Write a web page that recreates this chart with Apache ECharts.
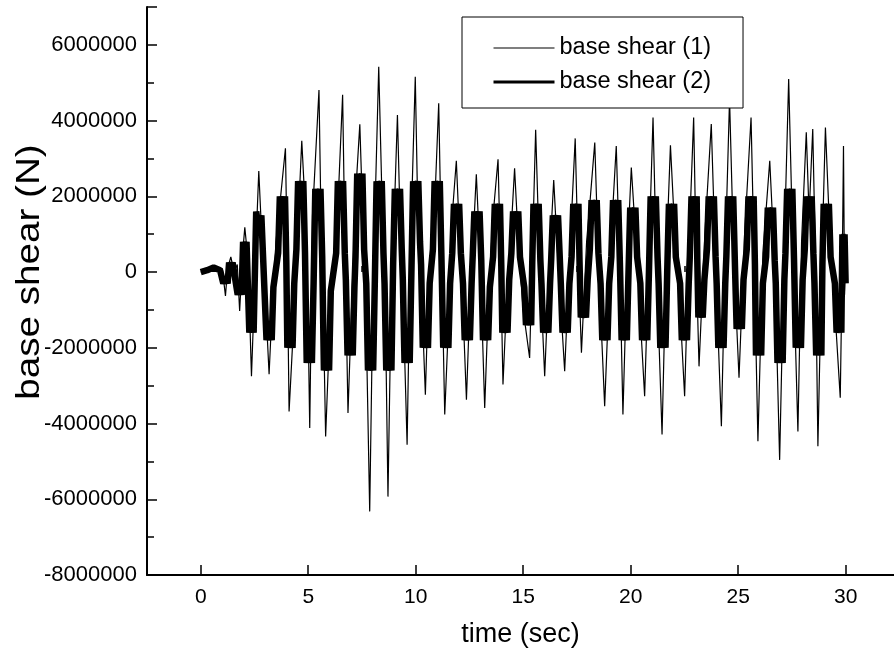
<!DOCTYPE html>
<html>
<head>
<meta charset="utf-8">
<script src="https://cdn.jsdelivr.net/npm/echarts@6/dist/echarts.min.js"></script>
<style>
html,body{margin:0;padding:0;background:#fff;}
#chart{width:894px;height:659px;}
</style>
</head>
<body>
<div id="chart"></div>
<script>
// base shear (1): time (sec) and base shear (MN)
const time1 = [0,0.2,0.4,0.55,0.7,0.85,1.0,1.15,1.25,1.4,1.55,1.7,1.81,1.95,2.05,2.2,2.36,2.5,2.6,2.7,2.85,3.0,3.18,3.3,3.5,3.7,3.94,4.02,4.11,4.3,4.45,4.6,4.7,4.85,5.0,5.07,5.2,5.5,5.6,5.7,5.81,6.0,6.2,6.4,6.6,6.7,6.85,7.0,7.2,7.4,7.55,7.7,7.86,8.0,8.1,8.28,8.45,8.6,8.71,8.85,9.0,9.15,9.3,9.45,9.6,9.75,9.98,10.1,10.3,10.45,10.6,10.9,11.07,11.2,11.35,11.55,11.7,11.89,12.05,12.2,12.36,12.55,12.7,12.82,13.0,13.21,13.4,13.6,13.83,13.95,14.06,14.25,14.45,14.6,14.8,15.0,15.3,15.45,15.58,15.75,16.0,16.2,16.42,16.6,16.93,17.15,17.42,17.55,17.71,17.95,18.1,18.33,18.5,18.79,19.0,19.15,19.33,19.5,19.64,19.85,20.03,20.3,20.65,20.85,21.04,21.2,21.46,21.65,21.85,22.1,22.3,22.51,22.7,22.93,23.05,23.18,23.45,23.75,23.95,24.22,24.4,24.6,24.8,25.04,25.3,25.6,25.75,25.92,26.15,26.47,26.7,26.93,27.15,27.35,27.55,27.78,27.95,28.17,28.3,28.47,28.6,28.71,28.9,29.06,29.3,29.5,29.75,29.85,29.9,29.95,30.0];
const shear1 = [0,0.03,0.08,0.02,0.15,0.05,0.1,-0.63,0.1,0.4,0.0,0.2,-1.03,0.5,1.18,0.3,-2.75,-0.5,1.2,2.67,0.8,-0.6,-2.7,-1.2,0.8,1.9,3.27,0.5,-3.68,-1.6,0.5,2.2,3.47,1.8,-1.5,-4.12,1.5,4.81,1.2,-1.0,-4.34,-1.5,0.5,2.0,4.68,1.0,-3.72,-1.2,2.0,3.9,1.2,-1.5,-6.32,-1.0,1.5,5.42,1.5,-1.5,-5.93,-1.0,1.5,4.15,0.8,-1.5,-4.56,0.5,5.16,1.5,-1.0,-3.24,-0.3,2.0,4.46,0.5,-3.76,-1.0,1.5,2.94,0.8,-1.0,-3.37,-0.3,1.2,2.58,0.3,-3.59,-0.5,1.5,2.98,0.2,-2.97,-0.5,1.2,2.74,0.5,-1.0,-2.27,1.0,3.76,0.5,-2.75,0.0,2.43,0.5,-2.62,0.3,3.53,0.5,-2.13,0.8,1.8,3.42,0.3,-3.54,-0.5,1.5,3.33,0.0,-3.76,0.5,2.76,0.3,-3.28,0.5,4.08,0.2,-4.29,0.3,3.35,0.5,-1.0,-3.28,0.5,4.08,0.3,-2.49,1.0,3.91,0.2,-4.07,0.5,4.57,0.3,-2.79,1.0,4.08,0.2,-4.47,0.5,2.94,0.2,-4.96,0.8,5.1,0.5,-4.21,0.8,3.69,1.5,3.78,0.2,-4.6,0.5,3.82,0.5,-1.0,-3.32,0.5,3.33,-0.6,0.2];

// base shear (2): [time (sec), base shear (MN)]
const trace2 = [
[0,0],[0.3,0.05],[0.6,0.12],[0.9,0.05],[1.05,-0.3],[1.15,-0.15],[1.25,-0.3],[1.32,0.25],[1.4,0.1],[1.48,0.25],
[1.72,-0.6],[1.81,-0.4],[1.9,-0.6],[1.97,0.8],[2.05,0.5],[2.13,0.8],[2.26,-1.6],[2.36,-1.2],[2.46,-1.6],[2.58,1.6],[2.7,1.1],[2.82,1.5],
[3.06,-1.8],[3.18,-1.3],[3.3,-1.8],[3.38,-0.4],[3.6,0.5],[3.68,2.0],[3.8,1.4],[3.92,2.0],[3.98,0.3],
[4.03,-2.0],[4.15,-1.5],[4.27,-2.0],[4.35,-0.3],[4.45,0.6],[4.53,2.4],[4.65,1.8],[4.77,2.4],[4.85,0.5],
[4.93,-2.4],[5.05,-1.8],[5.17,-2.4],[5.25,-0.3],[5.33,2.2],[5.45,1.6],[5.57,2.2],[5.65,0.4],
[5.73,-2.6],[5.85,-2.0],[5.97,-2.6],[6.05,-0.5],[6.3,0.5],[6.38,2.4],[6.5,1.8],[6.62,2.4],[6.7,0.5],[6.75,-0.2],
[6.83,-2.2],[6.95,-1.6],[7.07,-2.2],[7.15,-0.4],[7.2,0.4],[7.28,2.6],[7.4,2.0],[7.52,2.6],[7.6,0.6],[7.7,-0.3],
[7.78,-2.6],[7.9,-2.0],[8.02,-2.6],[8.1,-0.2],[8.18,2.4],[8.3,1.8],[8.42,2.4],[8.5,0.5],[8.55,-0.3],
[8.63,-2.6],[8.75,-2.0],[8.87,-2.6],[8.95,0.2],[9.03,2.2],[9.15,1.6],[9.27,2.2],[9.35,0.6],[9.4,-0.2],
[9.48,-2.4],[9.6,-1.8],[9.72,-2.4],[9.8,0.0],[9.88,2.4],[10.0,1.8],[10.12,2.4],[10.2,0.8],[10.25,0.2],
[10.33,-2.0],[10.45,-1.5],[10.57,-2.0],[10.65,-0.3],[10.8,0.6],[10.88,2.4],[11.0,1.8],[11.12,2.4],[11.2,0.3],
[11.28,-2.0],[11.4,-1.5],[11.52,-2.0],[11.6,-0.3],[11.7,0.5],[11.78,1.8],[11.9,1.3],[12.02,1.8],[12.1,0.5],[12.2,-0.3],
[12.28,-1.8],[12.4,-1.3],[12.52,-1.8],[12.6,-0.3],[12.65,0.4],[12.73,1.6],[12.85,1.2],[12.97,1.6],[13.05,0.3],
[13.13,-1.8],[13.25,-1.3],[13.37,-1.8],[13.45,-0.4],[13.6,0.4],[13.68,1.8],[13.8,1.3],[13.92,1.8],[13.98,0.2],
[14.03,-1.6],[14.15,-1.2],[14.27,-1.6],[14.35,-0.2],[14.45,0.5],[14.53,1.6],[14.65,1.2],[14.77,1.6],[14.85,0.4],[15.05,-0.4],
[15.13,-1.4],[15.25,-1.0],[15.37,-1.4],[15.42,0.2],[15.48,1.8],[15.6,1.3],[15.72,1.8],[15.8,0.3],[15.85,-0.3],
[15.93,-1.6],[16.05,-1.2],[16.17,-1.6],[16.25,-0.3],[16.3,0.3],[16.38,1.5],[16.5,1.1],[16.62,1.5],[16.7,0.4],[16.75,-0.3],
[16.83,-1.6],[16.95,-1.2],[17.07,-1.6],[17.15,-0.3],[17.25,0.4],[17.33,1.8],[17.45,1.3],[17.57,1.8],[17.62,0.3],
[17.68,-1.2],[17.8,-0.9],[17.92,-1.2],[18.0,-0.2],[18.1,0.6],[18.18,1.9],[18.3,1.4],[18.42,1.9],[18.5,0.5],[18.6,-0.3],
[18.68,-1.8],[18.8,-1.3],[18.92,-1.8],[19.0,-0.3],[19.1,0.4],[19.18,1.9],[19.3,1.4],[19.42,1.9],[19.5,0.2],
[19.58,-1.8],[19.7,-1.3],[19.82,-1.8],[19.9,0.0],[19.98,1.7],[20.1,1.2],[20.22,1.7],[20.3,0.4],[20.45,-0.3],
[20.53,-1.8],[20.65,-1.3],[20.77,-1.8],[20.85,0.0],[20.93,2.0],[21.05,1.5],[21.17,2.0],[21.25,0.4],[21.3,-0.3],
[21.38,-2.0],[21.5,-1.5],[21.62,-2.0],[21.7,0.0],[21.78,1.8],[21.9,1.3],[22.02,1.8],[22.1,0.4],[22.3,-0.3],
[22.38,-1.8],[22.5,-1.3],[22.62,-1.8],[22.7,-0.3],[22.75,0.4],[22.83,2.0],[22.95,1.5],[23.07,2.0],[23.1,0.3],
[23.15,-1.2],[23.25,-0.9],[23.35,-1.2],[23.43,-0.2],[23.55,0.6],[23.63,2.0],[23.75,1.5],[23.87,2.0],[23.95,0.4],[24.0,-0.3],
[24.08,-2.0],[24.2,-1.5],[24.32,-2.0],[24.4,-0.3],[24.45,0.4],[24.53,2.0],[24.65,1.5],[24.77,2.0],[24.85,0.2],
[24.93,-1.5],[25.05,-1.1],[25.17,-1.5],[25.25,-0.2],[25.4,0.6],[25.48,2.0],[25.6,1.5],[25.72,2.0],[25.78,0.2],
[25.83,-2.2],[25.95,-1.6],[26.07,-2.2],[26.15,-0.3],[26.3,0.4],[26.38,1.7],[26.5,1.2],[26.62,1.7],[26.7,0.3],[26.75,-0.3],
[26.83,-2.4],[26.95,-1.8],[27.07,-2.4],[27.15,-0.2],[27.2,0.5],[27.28,2.2],[27.4,1.6],[27.52,2.2],[27.6,0.3],
[27.68,-2.0],[27.8,-1.5],[27.92,-2.0],[28.0,-0.2],[28.1,0.6],[28.18,2.0],[28.3,1.5],[28.42,2.0],[28.5,0.5],[28.55,-0.3],
[28.63,-2.2],[28.75,-1.6],[28.87,-2.2],[28.92,0.2],[28.98,1.8],[29.1,1.3],[29.22,1.8],[29.3,0.4],[29.5,-0.3],
[29.58,-1.6],[29.7,-1.2],[29.8,-1.6],[29.85,1.0],[29.9,0.8],[29.95,1.0],[30.0,-0.3]
];

const xMajorTicks = [0,5,10,15,20,25,30];
const xMinorTicks = [2.5,7.5,12.5,17.5,22.5,27.5];
const seriesNames = ['base shear (1)','base shear (2)'];
const xTitle = 'time (sec)';
const yTitle = 'base shear (N)';

const MN = 1000000;
const data1 = time1.map((t, i) => [t, shear1[i] * MN]);
const data2 = trace2.map(p => [p[0], p[1] * MN]);

const FONT = 'Liberation Sans, Arial, Helvetica, sans-serif';
const chart = echarts.init(document.getElementById('chart'), null, {renderer: 'canvas'});
chart.setOption({
  animation: false,
  backgroundColor: '#fff',
  grid: {left: 147, right: 0, top: 7, bottom: 84, containLabel: false, outerBoundsMode: 'none'},
  graphic: [{
    type: 'text', x: 30, y: 272, rotation: Math.PI / 2, scaleX: 1.17,
    style: {text: yTitle, font: '33px "Liberation Sans", Arial, sans-serif', fill: '#000',
            align: 'center', verticalAlign: 'middle', textAlign: 'center', textVerticalAlign: 'middle'}
  }],
  legend: {
    orient: 'vertical',
    left: 462, top: 17,
    padding: [19, 32, 14, 30],
    itemGap: 10,
    itemWidth: 61, itemHeight: 20,
    borderColor: '#000', borderWidth: 1,
    backgroundColor: '#fff',
    itemStyle: {opacity: 0},
    textStyle: {fontFamily: FONT, fontSize: 23.5, color: '#000'},
    data: [
      {name: seriesNames[0], lineStyle: {width: 1.2, color: '#000'}},
      {name: seriesNames[1], lineStyle: {width: 3, color: '#000'}}
    ]
  },
  xAxis: [{
    type: 'value', min: -2.5, max: 32.25,
    name: xTitle, nameLocation: 'middle', nameGap: 46,
    nameTextStyle: {fontFamily: FONT, fontSize: 27, color: '#000'},
    axisLine: {show: true, onZero: false, lineStyle: {color: '#000', width: 2}},
    axisTick: {show: true, inside: true, length: 10, customValues: xMajorTicks, lineStyle: {color: '#000', width: 1.5}},
    axisLabel: {customValues: xMajorTicks, fontFamily: FONT, fontSize: 21, color: '#000', margin: 12},
    splitLine: {show: false}
  }, {
    type: 'value', min: -2.5, max: 32.25, position: 'bottom',
    axisLine: {show: false},
    axisTick: {show: true, inside: true, length: 6, customValues: xMinorTicks, lineStyle: {color: '#000', width: 1.5}},
    axisLabel: {show: false},
    splitLine: {show: false}
  }],
  yAxis: {
    type: 'value', min: -8 * MN, max: 7 * MN, interval: 2 * MN,
    axisLine: {show: true, onZero: false, lineStyle: {color: '#000', width: 2}},
    axisTick: {show: true, inside: true, length: 10, lineStyle: {color: '#000', width: 1.5}},
    minorTick: {show: true, splitNumber: 2, length: 7, lineStyle: {color: '#000', width: 1.5}},
    axisLabel: {fontFamily: FONT, fontSize: 22, color: '#000', margin: 10, showMaxLabel: false, formatter: v => String(v)},
    splitLine: {show: false}
  },
  series: [{
    name: seriesNames[0], type: 'line', xAxisIndex: 0,
    data: data1,
    symbol: 'none', lineStyle: {color: '#000', width: 1.2}, itemStyle: {color: '#000'}
  }, {
    name: seriesNames[1], type: 'line', xAxisIndex: 0,
    data: data2,
    symbol: 'none', lineStyle: {color: '#000', width: 6.5}, itemStyle: {color: '#000'}
  }]
});
</script>
</body>
</html>
